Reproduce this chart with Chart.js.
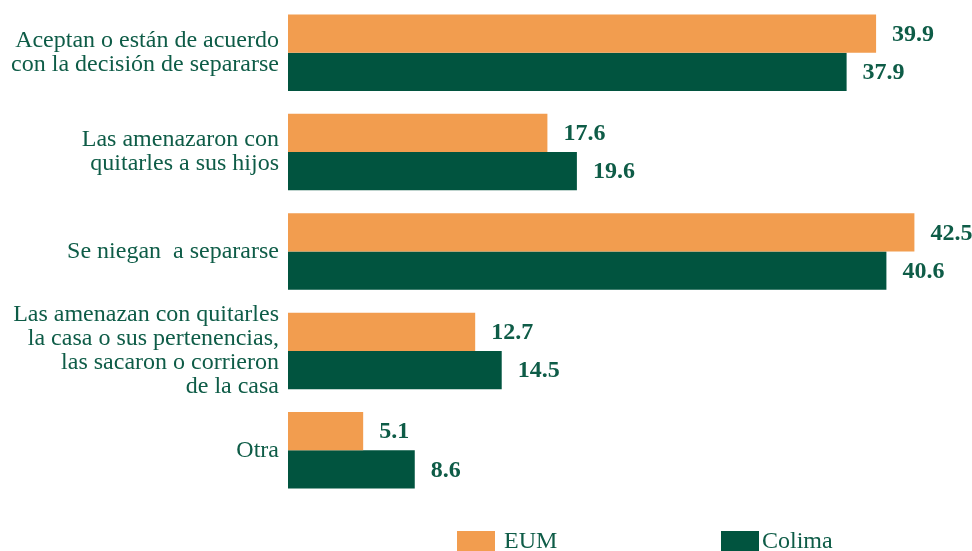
<!DOCTYPE html>
<html>
<head>
<meta charset="utf-8">
<script src="https://cdn.jsdelivr.net/npm/chart.js@4/dist/chart.umd.min.js"></script>
<style>
  html, body { margin: 0; padding: 0; background: #ffffff; }
  #wrap { position: relative; width: 972px; height: 551px; overflow: hidden; }
  canvas { position: absolute; left: 0; top: 0; }
  .lg-box { position: absolute; width: 38px; height: 20px; }
  .lg-txt { position: absolute; font-family: "Liberation Serif", serif; font-size: 24px; line-height: 24px; color: #0E5C47; white-space: nowrap; }
</style>
</head>
<body>
<div id="wrap">
  <canvas id="c" width="972" height="551"></canvas>
  <div class="lg-box" style="left:457px; top:531px; background:#F29D4F;"></div>
  <div class="lg-txt" style="left:504px; top:528px;">EUM</div>
  <div class="lg-box" style="left:721px; top:531px; background:#01543F;"></div>
  <div class="lg-txt" style="left:762px; top:528px;">Colima</div>
</div>
<script>
const categories = [
  ["Aceptan o están de acuerdo", "con la decisión de separarse"],
  ["Las amenazaron con", "quitarles a sus hijos"],
  "Se niegan  a separarse",
  ["Las amenazan con quitarles", "la casa o sus pertenencias,", "las sacaron o corrieron", "de la casa"],
  "Otra"
];
const seriesNames = ["EUM", "Colima"];
const eumValues = [39.9, 17.6, 42.5, 12.7, 5.1];
const colimaValues = [37.9, 19.6, 40.6, 14.5, 8.6];

const ORANGE = "#F29D4F";
const GREEN = "#01543F";
const TEXT = "#0E5C47";
const FONT = "'Liberation Serif', 'Times New Roman', serif";

const valueLabels = {
  id: "valueLabels",
  afterDatasetsDraw(chart) {
    const ctx = chart.ctx;
    ctx.save();
    ctx.font = "bold 24px " + FONT;
    ctx.fillStyle = TEXT;
    ctx.textAlign = "left";
    ctx.textBaseline = "middle";
    chart.data.datasets.forEach((ds, di) => {
      const meta = chart.getDatasetMeta(di);
      meta.data.forEach((el, i) => {
        ctx.fillText(ds.data[i].toFixed(1), el.x + 16, el.y + 1);
      });
    });
    ctx.restore();
  }
};

new Chart(document.getElementById("c"), {
  type: "bar",
  data: {
    labels: categories,
    datasets: [
      { label: seriesNames[0], data: eumValues, backgroundColor: ORANGE, categoryPercentage: 0.77, barPercentage: 1.0 },
      { label: seriesNames[1], data: colimaValues, backgroundColor: GREEN, categoryPercentage: 0.77, barPercentage: 1.0 }
    ]
  },
  options: {
    indexAxis: "y",
    responsive: false,
    animation: false,
    layout: { padding: { top: 3, bottom: 51, right: 6, left: 0 } },
    plugins: {
      legend: { display: false },
      tooltip: { enabled: false }
    },
    scales: {
      x: {
        display: false,
        min: 0,
        max: 46
      },
      y: {
        grid: { display: false, drawTicks: false },
        border: { display: false },
        ticks: {
          color: TEXT,
          padding: 9,
          font: { family: FONT, size: 24, lineHeight: 1.0 }
        },
        afterFit(scale) {
          scale.width = 288;
          scale.paddingTop = 0;
          scale.paddingBottom = 0;
        }
      }
    }
  },
  plugins: [valueLabels]
});
</script>
</body>
</html>
